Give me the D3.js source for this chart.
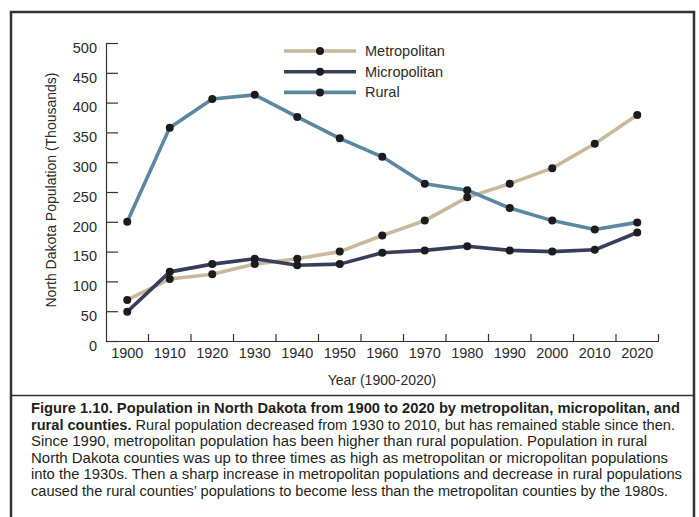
<!DOCTYPE html>
<html>
<head>
<meta charset="utf-8">
<script src="https://cdn.jsdelivr.net/npm/d3@7"></script>
<style>
  body { margin: 0; background: #fff; }
  svg { display: block; font-family: "Liberation Sans", Arial, sans-serif; }
</style>
</head>
<body>
<script>
// data (thousands of people)
var years = [1900, 1910, 1920, 1930, 1940, 1950, 1960, 1970, 1980, 1990, 2000, 2010, 2020];
var metro = [69, 104, 112, 129, 138, 150, 177, 202, 241, 264, 290, 331, 379];
var micro = [49, 116, 129, 138, 127, 129, 148, 152, 159, 152, 150, 153, 182];
var rural = [200, 358, 406, 413, 376, 340, 309, 264, 253, 223, 202, 187, 199];
var seriesNames = ["Metropolitan", "Micropolitan", "Rural"];
var seriesColors = ["#c9b89c", "#363e5c", "#5a87a2"];
var yTicks = [0, 50, 100, 150, 200, 250, 300, 350, 400, 450, 500];

var caption = [
  [["b", "Figure 1.10. Population in North Dakota from 1900 to 2020 by metropolitan, micropolitan, and"]],
  [["b", "rural counties."], ["n", " Rural population decreased from 1930 to 2010, but has remained stable since then."]],
  [["n", "Since 1990, metropolitan population has been higher than rural population. Population in rural"]],
  [["n", "North Dakota counties was up to three times as high as metropolitan or micropolitan populations"]],
  [["n", "into the 1930s. Then a sharp increase in metropolitan populations and decrease in rural populations"]],
  [["n", "caused the rural counties\u2019 populations to become less than the metropolitan counties by the 1980s."]]
];
var captionWidths = [649, 644, 616, 637, 651, 637];

var width = 699, height = 517;
var textColor = "#2b2b2b";

var svg = d3.select("body").append("svg")
  .attr("width", width)
  .attr("height", height);

// frame
svg.append("rect")
  .attr("x", 11).attr("y", 12)
  .attr("width", 683).attr("height", 520)
  .attr("fill", "none")
  .attr("stroke", "#333")
  .attr("stroke-width", 2.5);
svg.append("line")
  .attr("x1", 11).attr("x2", 694)
  .attr("y1", 395.5).attr("y2", 395.5)
  .attr("stroke", "#333")
  .attr("stroke-width", 1.5);

var x = d3.scaleBand().domain(years).range([106, 658.5]).padding(0);
var y = d3.scaleLinear().domain([0, 500]).range([341, 43]);

// y axis, ticks pointing inward
var yAxisG = svg.append("g")
  .attr("transform", "translate(106,0)")
  .call(d3.axisLeft(y).tickValues(yTicks).tickSize(-12).tickPadding(9));
yAxisG.select(".domain").attr("stroke", "#333").attr("stroke-width", 1.2);
yAxisG.selectAll(".tick line").attr("stroke", "#333").attr("stroke-width", 1.2);
yAxisG.selectAll(".tick text")
  .attr("dy", "0.64em")
  .attr("fill", textColor)
  .style("font-size", "14.5px");

// x axis: labels at band centres, ticks at band edges
var xAxisG = svg.append("g")
  .attr("transform", "translate(0,341)")
  .call(d3.axisBottom(x).tickSize(0).tickPadding(7).tickSizeOuter(0));
xAxisG.select(".domain").attr("stroke", "#333").attr("stroke-width", 1.2);
xAxisG.selectAll(".tick text")
  .attr("fill", textColor)
  .style("font-size", "14.5px");
xAxisG.selectAll(".edge")
  .data(years)
  .join("line")
  .attr("class", "edge")
  .attr("x1", function (d) { return x(d) + x.bandwidth(); })
  .attr("x2", function (d) { return x(d) + x.bandwidth(); })
  .attr("y1", 0).attr("y2", -7)
  .attr("stroke", "#333")
  .attr("stroke-width", 1.2);

// axis titles
svg.append("text")
  .attr("x", 382).attr("y", 385)
  .attr("text-anchor", "middle")
  .attr("fill", textColor)
  .style("font-size", "14px")
  .text("Year (1900-2020)");
svg.append("text")
  .attr("transform", "translate(56,190) rotate(-90)")
  .attr("text-anchor", "middle")
  .attr("fill", textColor)
  .style("font-size", "14px")
  .text("North Dakota Population (Thousands)");

// lines and points
var series = [metro, micro, rural].map(function (vals, i) {
  return {
    name: seriesNames[i],
    color: seriesColors[i],
    values: years.map(function (yr, j) { return { year: yr, value: vals[j] }; })
  };
});

var line = d3.line()
  .x(function (d) { return x(d.year) + x.bandwidth() / 2; })
  .y(function (d) { return y(d.value); });

svg.selectAll(".series-line")
  .data(series)
  .join("path")
  .attr("class", "series-line")
  .attr("d", function (d) { return line(d.values); })
  .attr("fill", "none")
  .attr("stroke", function (d) { return d.color; })
  .attr("stroke-width", 3.6)
  .attr("stroke-linejoin", "round");

svg.selectAll(".series-dots")
  .data(series)
  .join("g")
  .attr("class", "series-dots")
  .selectAll("circle")
  .data(function (d) { return d.values; })
  .join("circle")
  .attr("cx", function (d) { return x(d.year) + x.bandwidth() / 2; })
  .attr("cy", function (d) { return y(d.value); })
  .attr("r", 4)
  .attr("fill", "#1c1c1e");

// legend
var legend = svg.selectAll(".legend")
  .data(series)
  .join("g")
  .attr("class", "legend")
  .attr("transform", function (d, i) { return "translate(284," + (51 + i * 20.7) + ")"; });
legend.append("line")
  .attr("x1", 0).attr("x2", 72)
  .attr("stroke", function (d) { return d.color; })
  .attr("stroke-width", 3.6);
legend.append("circle")
  .attr("cx", 36).attr("r", 4)
  .attr("fill", "#1c1c1e");
legend.append("text")
  .attr("x", 81)
  .attr("dy", "0.35em")
  .attr("fill", textColor)
  .style("font-size", "14.5px")
  .text(function (d) { return d.name; });

// caption
var cap = svg.selectAll(".caption")
  .data(caption)
  .join("text")
  .attr("class", "caption")
  .attr("x", 31)
  .attr("y", function (d, i) { return 413 + i * 16.5; })
  .attr("fill", "#231f20")
  .style("font-size", "14px")
  .attr("textLength", function (d, i) { return captionWidths[i]; })
  .attr("lengthAdjust", "spacingAndGlyphs");
cap.selectAll("tspan")
  .data(function (d) { return d; })
  .join("tspan")
  .style("font-weight", function (d) { return d[0] === "b" ? "bold" : "normal"; })
  .text(function (d) { return d[1]; });
</script>
</body>
</html>
